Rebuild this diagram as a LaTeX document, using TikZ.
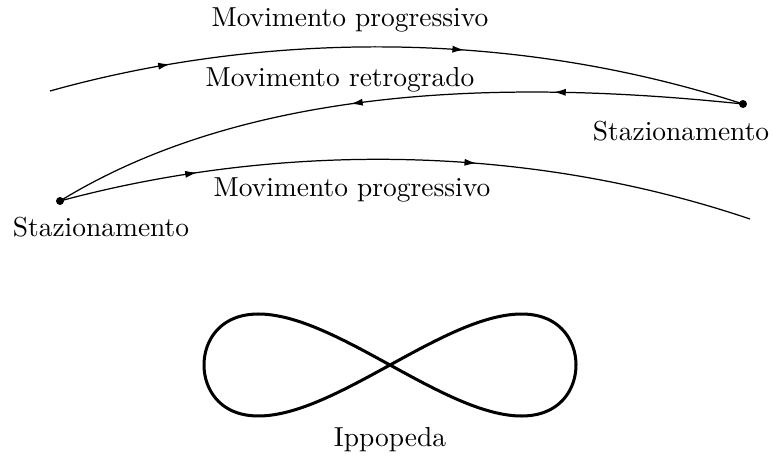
\documentclass[tikz,border=0pt]{standalone}
\usetikzlibrary{arrows.meta,decorations.markings}
\begin{document}
\begin{tikzpicture}[x=0.364pt,y=-0.364pt,
  curve/.style={line width=0.45pt},
  dotnode/.style={circle,fill=black,inner sep=0pt,minimum size=2.9pt},
  lbl/.style={inner sep=0pt,font=\normalsize},
  arr/.style 2 args={postaction={decorate},decoration={markings,
     mark=at position #1 with {\arrow{Latex[length=4.3pt,width=2.6pt]}},
     mark=at position #2 with {\arrow{Latex[length=4.3pt,width=2.6pt]}}}},
  rarr/.style 2 args={postaction={decorate},decoration={markings,
     mark=at position #1 with {\arrowreversed{Latex[length=4.3pt,width=2.6pt]}},
     mark=at position #2 with {\arrowreversed{Latex[length=4.3pt,width=2.6pt]}}}}]
\useasboundingbox (0,0) rectangle (773,459);
\node[dotnode] (dR) at (743,104) {};
\node[dotnode] (dL) at (60,201) {};
\coordinate (s1) at (50,91);
\coordinate (e3) at (750,219);
% top progressive
\draw[curve,arr={0.175}{0.595}] (s1) .. controls (250,35) and (500,25) .. (dR.center);
% retrograde
\draw[curve,rarr={0.44}{0.73}] (dL.center) .. controls (270,72) and (560,85) .. (dR.center);
% bottom progressive
\draw[curve,arr={0.20}{0.60}] (dL.center) .. controls (260,147) and (510,138) .. (e3);
% labels
\node[lbl] (t1) at (350,20) {Movimento progressivo};
\node[lbl] (t2) at (340,80) {Movimento retrogrado};
\node[lbl] (t3) at (352,190) {Movimento progressivo};
\node[lbl] (sR) at (681,131) {Stazionamento};
\node[lbl] (sL) at (101,227) {Stazionamento};
% hippopede
\draw[line width=1.1pt] plot[domain=0:360,samples=240,smooth,variable=\t]
  ({390+186*sin(\t)},{365+102*sin(\t)*cos(\t)}) -- cycle;
\node[lbl] (ip) at (390,440) {Ippopeda};
\end{tikzpicture}
\end{document}
